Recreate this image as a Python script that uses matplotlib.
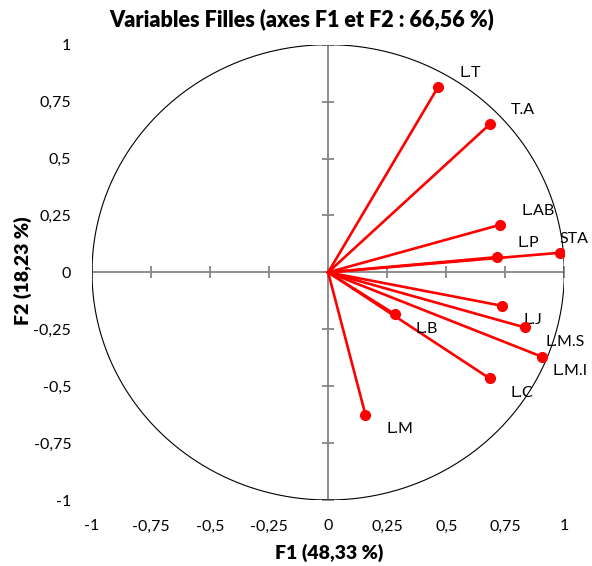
import numpy as np
import matplotlib
matplotlib.use("Agg")
from matplotlib import pyplot as plt

# loadings of the variables on F1 / F2
labels = ['L.T', 'T.A', 'L.AB', 'L.P', 'STA', 'L.J', 'L.M.S', 'L.M.I', 'L.C', 'L.B', 'L.M']
f1 = [0.466, 0.686, 0.729, 0.715, 0.981, 0.737, 0.833, 0.906, 0.684, 0.281, 0.158]
f2 = [0.815, 0.652, 0.209, 0.067, 0.086, -0.147, -0.242, -0.371, -0.466, -0.183, -0.626]

ticks = [-1, -0.75, -0.5, -0.25, 0, 0.25, 0.5, 0.75, 1]
tick_labels = ['-1', '-0,75', '-0,5', '-0,25', '0', '0,25', '0,5', '0,75', '1']

title = 'Variables Filles (axes F1 et F2 : 66,56 %)'
xlab = 'F1 (48,33 %)'
ylab = 'F2 (18,23 %)'

plt.rcParams['font.family'] = ['Lato', 'DejaVu Sans']

fig = plt.figure(figsize=(5.92, 5.66), dpi=100)
ax = fig.add_axes([92/592, 1 - 500/566, (564.3 - 92)/592, (500 - 44.7)/566])
ax.set_xlim(-1, 1)
ax.set_ylim(-1, 1)
for s in ax.spines.values():
    s.set_visible(False)

# central cross with small ticks
grey = '#868686'
ax.plot([-1, 1], [0, 0], color=grey, lw=1.3, zorder=1)
ax.plot([0, 0], [-1, 1], color=grey, lw=1.3, zorder=1)
ax.plot(ticks, [0]*len(ticks), ls='none', marker='|', ms=8, mew=1.3, color=grey, zorder=1)
ax.plot([0]*len(ticks), ticks, ls='none', marker='_', ms=8, mew=1.3, color=grey, zorder=1)

# unit circle
t = np.linspace(0, 2*np.pi, 400)
ax.plot(np.cos(t), np.sin(t), color='black', lw=0.8, zorder=2)

# vectors
for x, y in zip(f1, f2):
    ax.plot([0, x], [0, y], color='#ff0000', lw=1.9, zorder=3)
ax.plot(f1, f2, ls='none', marker='o', ms=7, color='#ff0000', zorder=4)

texts = []
for lab, x, y in zip(labels, f1, f2):
    dy = 10 if y > 0 else -10.5
    txt = ax.annotate(lab, (x, y), xytext=(15, dy), textcoords='offset points',
                      ha='left', va='center', fontsize=11.5, color='black',
                      annotation_clip=False)
    texts.append(txt)

ax.set_xticks(ticks)
ax.set_xticklabels(tick_labels, fontsize=11.5)
ax.set_yticks(ticks)
ax.set_yticklabels(tick_labels, fontsize=11.5)
ax.tick_params(length=0, pad=14)
ax.tick_params(axis='y', pad=15)

fig.text(302/592, 1 - 19/566, title, ha='center', va='center', fontsize=15.5, fontweight='heavy')
fig.text(329/592, 1 - 553/566, xlab, ha='center', va='center', fontsize=14, fontweight='heavy')
fig.text(23/592, 1 - 271/566, ylab, ha='center', va='center', fontsize=14, fontweight='heavy', rotation=90)

# keep labels inside the figure on the right side
fig.canvas.draw()
r = fig.canvas.get_renderer()
for txt in texts:
    bb = txt.get_window_extent(r)
    if bb.x1 > 588:
        shift = (bb.x1 - 588) * 72 / fig.dpi
        ox, oy = txt.xyann
        txt.xyann = (ox - shift, oy)

fig.savefig('out.png', dpi=100)
